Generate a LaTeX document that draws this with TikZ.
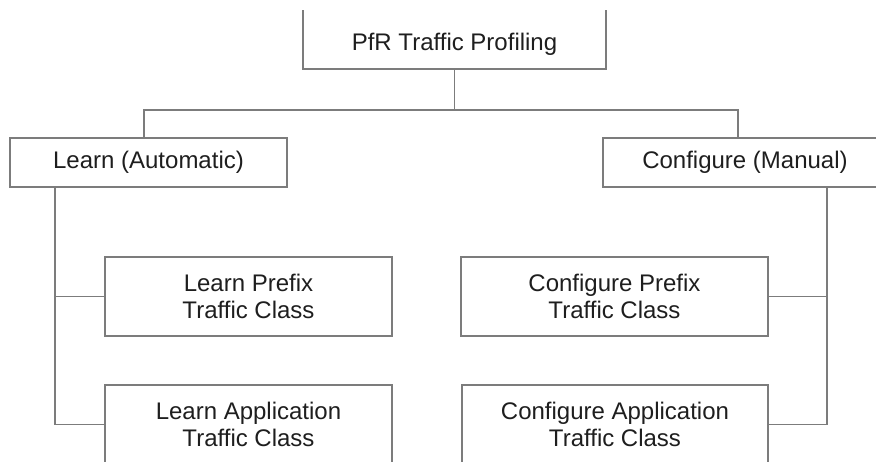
\documentclass[tikz,border=0pt]{standalone}
\usepackage{fontspec}
\setmainfont{Liberation Sans}
\usepackage{tikz}
\usetikzlibrary{positioning, calc}
\definecolor{linegray}{HTML}{7C7C7C}
\definecolor{textgray}{HTML}{1E1E1E}
\tikzset{
  font={\fontsize{24pt}{27pt}\selectfont}}
\tikzset{
  box/.style={draw=linegray, line width=1.6pt, rectangle, inner sep=0pt,
    align=center, text=textgray},
  wire/.style={draw=linegray, line width=1.6pt}
}

\begin{document}
\begin{tikzpicture}[x=1pt, y=-1pt]
     \useasboundingbox (0,0) rectangle (876,461);
     \clip (0,10) rectangle (876,461);

     \node[box, minimum width=303pt, minimum height=68pt,
           text height=36pt, text depth=5pt] (profiling) at (454.5,35) {PfR Traffic Profiling};
     \node[box, minimum width=277pt, minimum height=49pt] (learn) at (148.5,162.5) {Learn (Automatic)};
     \node[box, minimum width=284pt, minimum height=49pt] (configure) at (745,162.5) {Configure (Manual)};

     \node[box, minimum width=287pt, minimum height=79pt] (learnpfx) at (248.5,296.5) {Learn Prefix\\Traffic Class};
     \node[box, minimum width=287pt, minimum height=79pt] (learnapp) at (248.5,424.5) {Learn Application\\Traffic Class};
     \node[box, minimum width=307pt, minimum height=79pt] (confpfx) at (614.5,296.5) {Configure Prefix\\Traffic Class};
     \node[box, minimum width=306pt, minimum height=79pt] (confapp) at (615,424.5) {Configure Application\\Traffic Class};

     %%
     \coordinate (split) at ($(profiling.south)+(0,40)$);
     \coordinate (learnbus) at (55,187);
     \coordinate (confbus) at (827,187);

     \draw[wire] (profiling.south) -- (split);
     \draw[wire] ($(learn.north)+(-4.5,0)$) |- (split) -| ($(configure.north)+(-7,0)$);

     \draw[wire] (learnbus) |- (learnpfx.west);
     \draw[wire] (learnbus) |- (learnapp.west);

     \draw[wire] (confbus) |- (confpfx.east);
     \draw[wire] (confbus) |- (confapp.east);
\end{tikzpicture}
\end{document}
